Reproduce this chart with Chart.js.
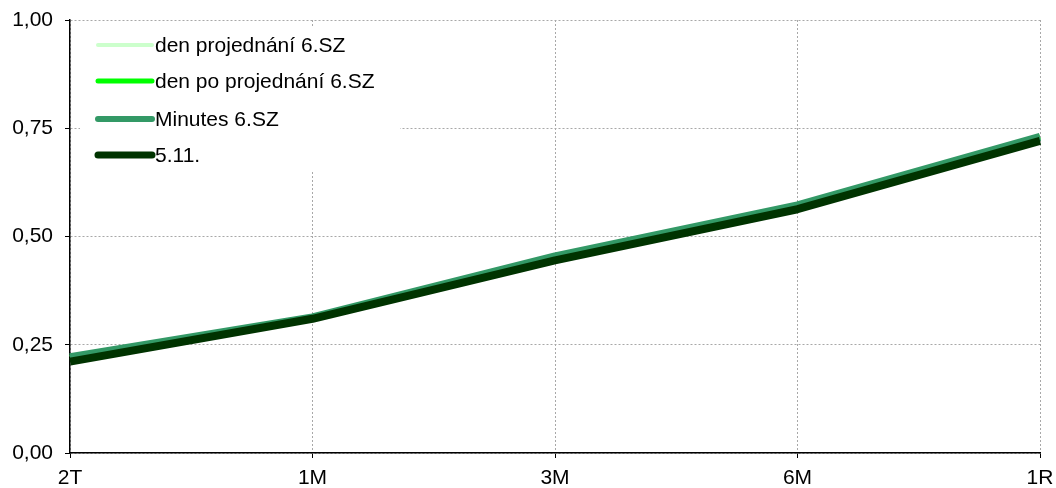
<!DOCTYPE html>
<html>
<head>
<meta charset="utf-8">
<script src="https://cdn.jsdelivr.net/npm/chart.js@4/dist/chart.umd.min.js"></script>
<style>
  html, body { margin: 0; padding: 0; background: #fff; }
  #wrap { width: 1056px; height: 488px; position: relative; }
</style>
</head>
<body>
<div id="wrap"><canvas id="chart"></canvas></div>
<script>
// Data
const categories = ['2T', '1M', '3M', '6M', '1R'];
const denProjednani = [0.221, 0.313, 0.454, 0.572, 0.730];
const denPoProjednani = [0.221, 0.313, 0.454, 0.572, 0.730];
const minutes6SZ = [0.221, 0.313, 0.454, 0.572, 0.730];
const serie511 = [0.211, 0.310, 0.445, 0.563, 0.721];
const yTicks = [0, 0.25, 0.5, 0.75, 1];

const FONT = 'Arial, "Liberation Sans", sans-serif';

// Legenda v bílém rámečku vlevo nahoře
const boxLegend = {
    id: 'boxLegend',
    beforeDatasetsDraw(chart) {
        const ctx = chart.ctx;
        const left = chart.chartArea.left;
        ctx.save();
        ctx.fillStyle = '#ffffff';
        ctx.fillRect(left + 10, 27, 320, 145);
        const rows = [45, 81, 119, 155];
        ctx.font = '21px ' + FONT;
        ctx.textBaseline = 'middle';
        ctx.lineCap = 'round';
        chart.data.datasets.forEach((ds, i) => {
            const y = rows[i];
            ctx.strokeStyle = ds.borderColor;
            ctx.lineWidth = ds.legendWidth;
            ctx.beginPath();
            ctx.moveTo(left + 28, y);
            ctx.lineTo(left + 82, y);
            ctx.stroke();
            ctx.fillStyle = '#000';
            ctx.fillText(ds.label, left + 85, y + 1);
        });
        ctx.restore();
    }
};

const ctx = document.getElementById('chart').getContext('2d');
new Chart(ctx, {
    type: 'line',
    data: {
        labels: categories,
        datasets: [
            { label: 'den projednání 6.SZ', data: denProjednani, borderColor: '#CCFFCC', borderWidth: 4, legendWidth: 4, order: 3 },
            { label: 'den po projednání 6.SZ', data: denPoProjednani, borderColor: '#00FF00', borderWidth: 5, legendWidth: 5, order: 2 },
            { label: 'Minutes 6.SZ', data: minutes6SZ, borderColor: '#339966', borderWidth: 8, legendWidth: 6, order: 1 },
            { label: '5.11.', data: serie511, borderColor: '#003300', borderWidth: 8, legendWidth: 7, order: 0 }
        ].map(d => Object.assign(d, {
            fill: false,
            pointRadius: 0,
            pointHoverRadius: 0,
            tension: 0,
            borderJoinStyle: 'round',
            borderCapStyle: 'butt'
        }))
    },
    options: {
        responsive: true,
        maintainAspectRatio: false,
        animation: false,
        layout: { padding: { top: 20, right: 16, left: 0, bottom: 0 } },
        plugins: {
            legend: { display: false },
            tooltip: { enabled: false }
        },
        scales: {
            x: {
                offset: false,
                afterFit: s => { s.height = 35; s.paddingLeft = 0; s.paddingRight = 0; },
                grid: { color: '#a8a8a8', tickColor: '#000', tickLength: 5, drawOnChartArea: true },
                border: { display: true, color: '#000', width: 1.5, dash: [2, 2] },
                ticks: { color: '#000', font: { family: FONT, size: 21 }, padding: 8, maxRotation: 0, autoSkip: false }
            },
            y: {
                min: 0,
                max: 1,
                afterFit: s => { s.width = 70; s.paddingTop = 0; s.paddingBottom = 0; },
                afterBuildTicks: s => { s.ticks = yTicks.map(v => ({ value: v })); },
                grid: { color: '#a8a8a8', tickColor: '#000', tickLength: 5 },
                border: { display: true, color: '#000', width: 1.5, dash: [2, 2] },
                ticks: {
                    color: '#000',
                    font: { family: FONT, size: 21 },
                    padding: 12,
                    callback: v => v.toFixed(2).replace('.', ',')
                }
            }
        }
    },
    plugins: [boxLegend]
});
</script>
</body>
</html>
